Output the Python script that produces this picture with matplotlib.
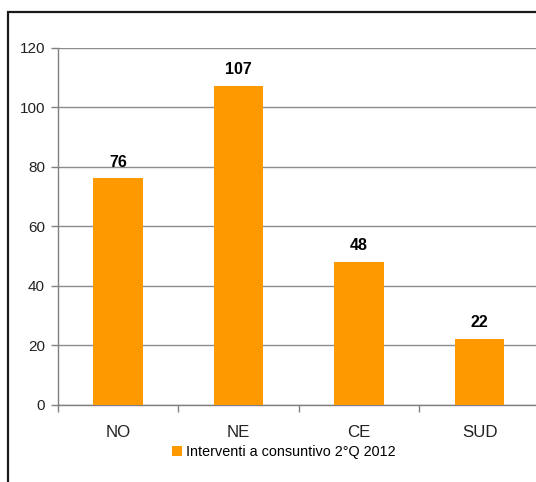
import matplotlib
matplotlib.use("Agg")
from matplotlib import pyplot as plt
from matplotlib.patches import Rectangle

plt.rcParams['font.family'] = ['Liberation Sans', 'DejaVu Sans']

# Data
regions = ['NO', 'NE', 'CE', 'SUD']
interventi = [76, 107, 48, 22]
series_name = 'Interventi a consuntivo 2°Q 2012'
y_ticks = [0, 20, 40, 60, 80, 100, 120]

BAR_COLOR = '#FF9900'
GRID_COLOR = '#8C8C8C'

fig = plt.figure(figsize=(5.36, 4.82), dpi=100)
fig.patch.set_facecolor('white')

# outer chart frame (cut off on the right and bottom)
frame = Rectangle((8 / 536, -0.1), 1.2, (482 - 12) / 482 + 0.1,
                  transform=fig.transFigure, fill=False,
                  edgecolor='#1a1a1a', linewidth=1.6, clip_on=False)
fig.patches.append(frame)

ax = fig.add_axes([57.5 / 536, 77.4 / 482, (540 - 57.5) / 536, (404.6 - 47.5) / 482])

x = range(len(regions))
bars = ax.bar(x, interventi, width=0.41, color=BAR_COLOR, zorder=3,
              label=series_name)

for xi, v in zip(x, interventi):
    ax.text(xi, v + 3, str(v), ha='center', va='bottom',
            fontsize=11.5, fontweight='bold', color='black', zorder=4)

ax.set_xlim(-0.5, 3.5)
ax.set_ylim(0, 120)
ax.set_yticks(y_ticks)
ax.yaxis.grid(True, color=GRID_COLOR, linewidth=1.0, zorder=0)
ax.set_axisbelow(True)

ax.set_xticks([i - 0.5 for i in range(len(regions) + 1)], minor=False)
ax.set_xticklabels([])
ax.set_xticks(list(x), minor=True)
ax.set_xticklabels(regions, minor=True, fontsize=12.2, color='#222222')
ax.tick_params(axis='x', which='major', length=5, color='#808080', width=1)
ax.tick_params(axis='x', which='minor', length=0, pad=14.5)
ax.tick_params(axis='y', length=5, color='#808080', width=1, labelsize=11,
               labelcolor='#222222', pad=4)

for side in ['top', 'right']:
    ax.spines[side].set_visible(False)
ax.spines['left'].set_color('#808080')
ax.spines['bottom'].set_color('#808080')
ax.spines['left'].set_linewidth(1.0)
ax.spines['bottom'].set_linewidth(1.0)

fig.legend(handles=[bars], labels=[series_name], loc='center',
           bbox_to_anchor=(284 / 536, 1 - 452 / 482), frameon=False,
           fontsize=10.4, handlelength=0.7, handleheight=0.7,
           handletextpad=0.3, borderpad=0)

fig.savefig('out.png', dpi=100)
